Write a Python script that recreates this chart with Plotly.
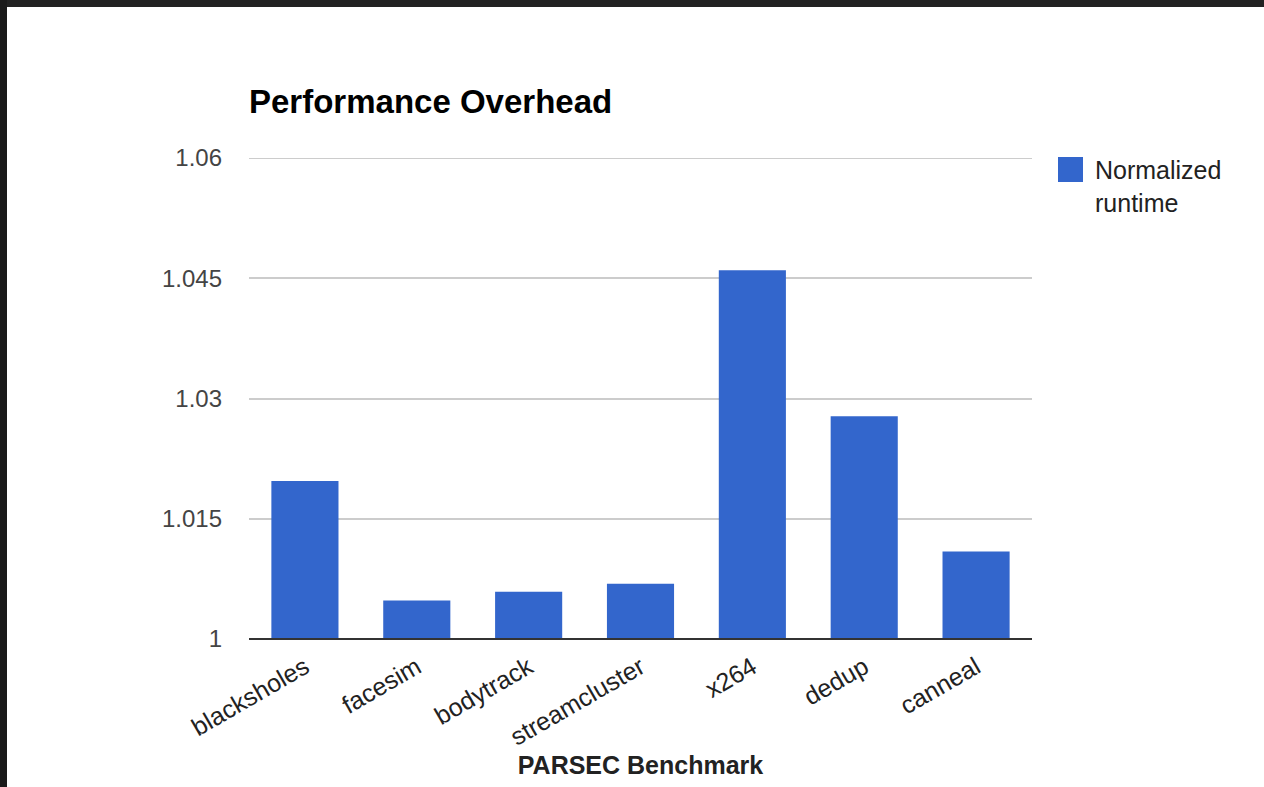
import plotly.graph_objects as go

benchmarks = ["blacksholes", "facesim", "bodytrack", "streamcluster", "x264", "dedup", "canneal"]
runtime = [1.0197, 1.0048, 1.0059, 1.0069, 1.0460, 1.0278, 1.0109]
ytick_vals = [1, 1.015, 1.03, 1.045, 1.06]
ytick_text = ["1", "1.015", "1.03", "1.045", "1.06"]
series_name = "Normalized<br>runtime"

W, H = 1264, 787
L, R, T, B = 249, 232, 158, 148
PW, PH = W - L - R, H - T - B
FONT = "Liberation Sans, Arial, sans-serif"
BLUE = "#3366cc"

def px_x(px):
    return (px - L) / PW

def px_y(py):
    return (H - B - py) / PH

fig = go.Figure()
fig.add_trace(go.Bar(
    x=benchmarks, y=runtime, base=0, name="Normalized runtime",
    marker=dict(color=BLUE, line=dict(width=0)), showlegend=False,
))

fig.update_layout(
    width=W, height=H,
    margin=dict(l=L, r=R, t=T, b=B, autoexpand=False),
    paper_bgcolor="white", plot_bgcolor="white",
    bargap=0.4,
    font=dict(family=FONT, color="#444444", size=24),
    title=dict(text="<b>Performance Overhead</b>", x=L / W, xanchor="left",
               xref="container", y=1 - 101 / H, yanchor="middle", yref="container",
               font=dict(family=FONT, size=33, color="#000000")),
    xaxis=dict(tickangle=-30, tickfont=dict(size=25, color="#222222"),
               showgrid=False, showline=False, ticks="", ticklabelstandoff=8,
               title=dict(text="<b>PARSEC Benchmark</b>", standoff=2,
                          font=dict(size=25, color="#222222"))),
    yaxis=dict(range=[1, 1.06], tickvals=ytick_vals, ticktext=ytick_text,
               showgrid=True, gridcolor="#cccccc", gridwidth=2,
               zeroline=False, showline=False, ticks="",
               ticklabelstandoff=26, tickfont=dict(size=24, color="#444444")),
    showlegend=False,
)

# top gridline (at range edge)
fig.add_shape(type="line", xref="paper", yref="y", x0=0, x1=1,
              y0=ytick_vals[-1], y1=ytick_vals[-1], layer="below",
              line=dict(color="#cccccc", width=2))

# baseline axis line
fig.add_shape(type="line", xref="paper", yref="paper", x0=0, x1=1, y0=0, y1=0,
              line=dict(color="#333333", width=2))

# manual legend
fig.add_shape(type="rect", xref="paper", yref="paper",
              x0=px_x(1058), x1=px_x(1083), y0=px_y(182), y1=px_y(157),
              fillcolor=BLUE, line=dict(width=0))
fig.add_annotation(text=series_name, xref="paper", yref="paper",
                   x=px_x(1093), y=px_y(154), xanchor="left", yanchor="top",
                   align="left", showarrow=False,
                   font=dict(family=FONT, size=25, color="#222222"))

# dark frame strips (top and left)
fig.add_shape(type="rect", xref="paper", yref="paper", layer="above",
              x0=px_x(0), x1=px_x(W), y0=px_y(7), y1=px_y(0),
              fillcolor="#222222", line=dict(width=0))
fig.add_shape(type="rect", xref="paper", yref="paper", layer="above",
              x0=px_x(0), x1=px_x(7), y0=px_y(H), y1=px_y(0),
              fillcolor="#1a1a1a", line=dict(width=0))

fig.write_html("out.html")
